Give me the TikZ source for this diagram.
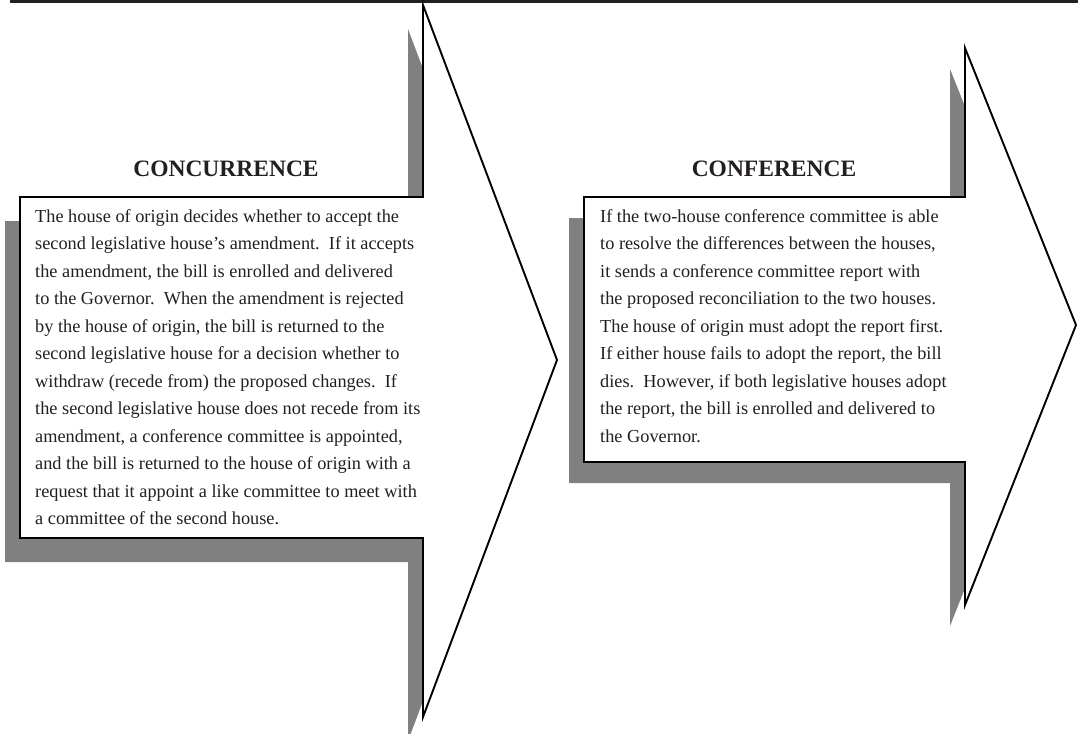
\documentclass[tikz,border=0pt]{standalone}
\usepackage{fontspec}
\setmainfont{Liberation Serif}
\usetikzlibrary{positioning}

\definecolor{ink}{HTML}{231F20}
\definecolor{shade}{HTML}{808080}

\tikzset{
    arrowline/.style={draw=black, line width=1.9pt, fill=white, line join=miter},
    shadowfill/.style={fill=shade, draw=none},
    heading/.style={font=\fontsize{23.5}{28}\selectfont\bfseries, text=ink, inner sep=0pt},
    bodytext/.style={font=\fontsize{18.3}{27.5}\selectfont, text=ink, align=left, inner sep=0pt, anchor=north west}
}

% the two block arrows
\newcommand{\concurshape}[1]{\path[#1] (20,197) -- (423,197) -- (423,5) -- (557,360) -- (423,717) -- (423,538) -- (20,538) -- cycle;}
\newcommand{\confershape}[1]{\path[#1] (584,197) -- (965,197) -- (965,48) -- (1076,325) -- (965,605) -- (965,462) -- (584,462) -- cycle;}

\begin{document}
\begin{tikzpicture}[x=1pt,y=-1pt]
        \useasboundingbox (0,0) rectangle (1078,733);

        % Rule along the top
        \fill[ink] (10,0) rectangle (1078,3.5);

        % Concurrence arrow with its shadow
        \concurshape{shadowfill, shift={(-15,24)}}
        \concurshape{arrowline}

        % Conference arrow with its shadow
        \confershape{shadowfill, shift={(-15,21)}}
        \confershape{arrowline}

        % Headings
        \node[heading] (concurhead) at (226,169) {CONCURRENCE};
        \node[heading] (conferhead) at (774,169) {CONFERENCE};

        % Body texts
        \node[bodytext] (concurtext) at (35,209) {%
            The house of origin decides whether to accept the\\
            second legislative house’s amendment.\ \ If it accepts\\
            the amendment, the bill is enrolled and delivered\\
            to the Governor.\ \ When the amendment is rejected\\
            by the house of origin, the bill is returned to the\\
            second legislative house for a decision whether to\\
            withdraw (recede from) the proposed changes.\ \ If\\
            the second legislative house does not recede from its\\
            amendment, a conference committee is appointed,\\
            and the bill is returned to the house of origin with a\\
            request that it appoint a like committee to meet with\\
            a committee of the second house.};
        \node[bodytext] (confertext) at (600,209) {%
            If the two-house conference committee is able\\
            to resolve the differences between the houses,\\
            it sends a conference committee report with\\
            the proposed reconciliation to the two houses.\\
            The house of origin must adopt the report first.\\
            If either house fails to adopt the report, the bill\\
            dies.\ \ However, if both legislative houses adopt\\
            the report, the bill is enrolled and delivered to\\
            the Governor.};

\end{tikzpicture}
\end{document}
